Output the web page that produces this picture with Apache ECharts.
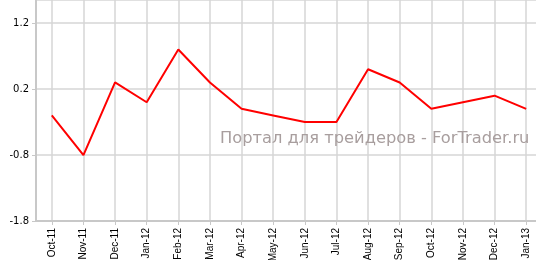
<!DOCTYPE html>
<html><head><meta charset="utf-8">
<script src="https://cdn.jsdelivr.net/npm/echarts@6/dist/echarts.min.js"></script>
<style>html,body{margin:0;padding:0;background:#fff}#c{width:536px;height:260px}</style>
</head><body><div id="c"></div>
<script>
var categories = ['Oct-11','Nov-11','Dec-11','Jan-12','Feb-12','Mar-12','Apr-12','May-12','Jun-12','Jul-12','Aug-12','Sep-12','Oct-12','Nov-12','Dec-12','Jan-13'];
var values = [-0.2, -0.8, 0.3, 0.0, 0.8, 0.3, -0.1, -0.2, -0.3, -0.3, 0.5, 0.3, -0.1, 0.0, 0.1, -0.1];
var yTicks = [-1.8, -0.8, 0.2, 1.2];
var watermark = 'Портал для трейдеров - ForTrader.ru';

var chart = echarts.init(document.getElementById('c'), null, {renderer:'canvas'});
chart.setOption({
  animation: false,
  grid: {left: 36, right: -6, top: 0, bottom: 39, containLabel: false, outerBoundsMode: 'none'},
  xAxis: {
    type: 'category', data: categories, boundaryGap: true,
    axisLine: {show: true, onZero: false, lineStyle: {color: '#c8c8c8', width: 2}},
    axisTick: {show: true, alignWithLabel: true, length: 4, lineStyle: {color: '#c8c8c8'}},
    splitLine: {show: true, alignWithLabel: true, lineStyle: {color: '#d6d6d6', width: 1.5}},
    axisLabel: {rotate: 90, interval: 0, margin: 7, fontFamily: 'Liberation Sans', fontSize: 10, color: '#000'}
  },
  yAxis: {
    type: 'value', min: -1.8, max: 1.55, interval: 1,
    axisLine: {show: true, onZero: false, lineStyle: {color: '#c8c8c8', width: 2}},
    axisTick: {show: true, length: 4, lineStyle: {color: '#c8c8c8'}},
    splitLine: {show: true, lineStyle: {color: '#d6d6d6', width: 1.5}},
    axisLabel: {showMaxLabel: false, margin: 7, fontFamily: 'DejaVu Sans', fontSize: 10, color: '#000',
      formatter: function(v){ return yTicks.indexOf(Math.round(v*10)/10) >= 0 ? v.toFixed(1) : ''; }}
  },
  graphic: [{
    type: 'text', left: 220, top: 131, z: 100,
    style: {text: watermark, fontFamily: 'DejaVu Sans', fontSize: 16.3, fill: '#a89e9e'}
  }],
  series: [{
    type: 'line', data: values, symbol: 'none',
    lineStyle: {color: '#ff0000', width: 2}
  }]
});
</script></body></html>
